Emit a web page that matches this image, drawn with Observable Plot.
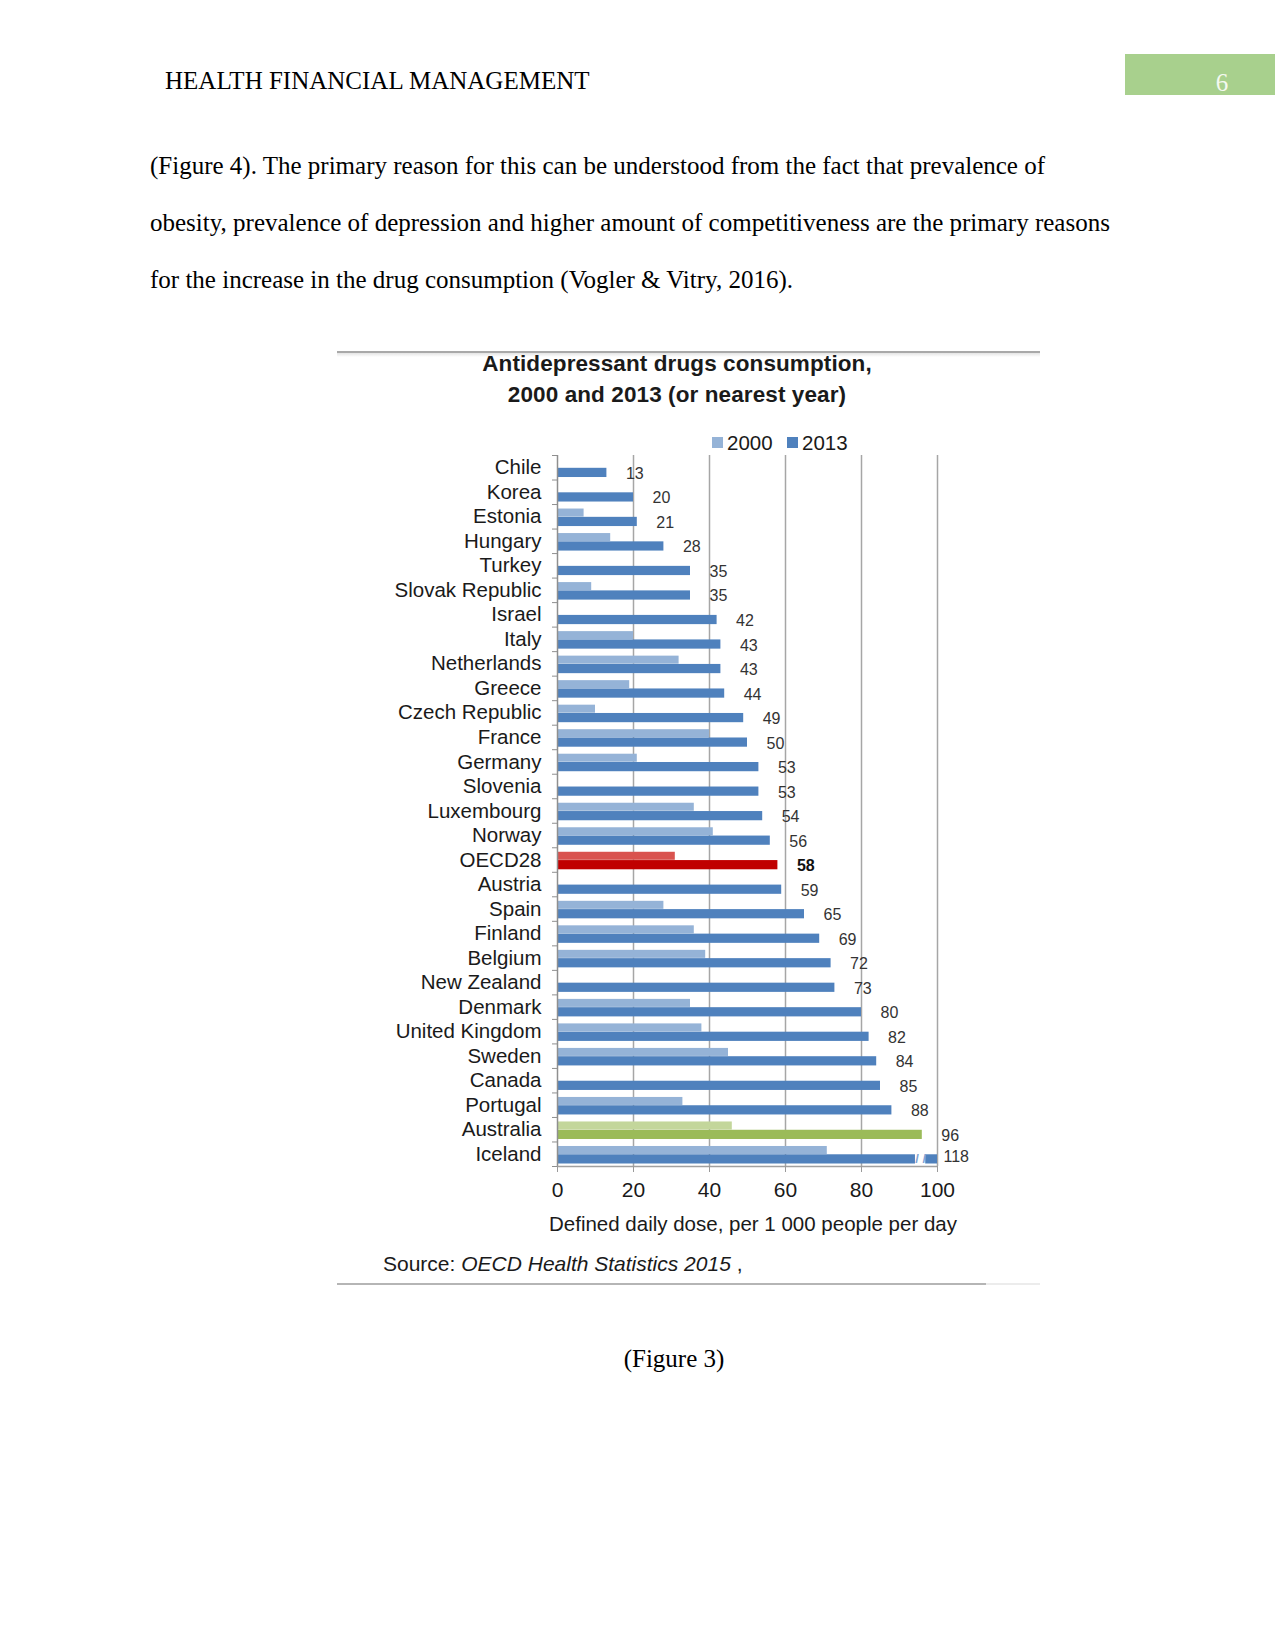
<!DOCTYPE html>
<html>
<head>
<meta charset="utf-8">
<script src="https://cdn.jsdelivr.net/npm/d3@7"></script>
<script src="https://cdn.jsdelivr.net/npm/@observablehq/plot@0.6"></script>
<style>
  html, body { margin: 0; padding: 0; background: #fff; }
  #page { position: relative; width: 1275px; height: 1650px; overflow: hidden; }
  .abs { position: absolute; white-space: nowrap; line-height: 1; }
  .serif { font-family: "Liberation Serif", "Times New Roman", serif; font-size: 25px; color: #000; }
  .sans { font-family: "Liberation Sans", Arial, sans-serif; color: #1a1a1a; }
  .ctr { transform: translateX(-50%); }
</style>
</head>
<body>
<div id="page">
  <div class="abs serif" style="left:165px; top:67.5px;">HEALTH FINANCIAL MANAGEMENT</div>
  <div class="abs" style="left:1125px; top:54px; width:150px; height:41px; background:#a8d08d;"></div>
  <div class="abs serif ctr" style="left:1222px; top:69.5px; color:#f4f9f0;">6</div>

  <div class="abs serif" style="left:150px; top:152.5px;">(Figure 4). The primary reason for this can be understood from the fact that prevalence of</div>
  <div class="abs serif" style="left:150px; top:209.5px;">obesity, prevalence of depression and higher amount of competitiveness are the primary reasons</div>
  <div class="abs serif" style="left:150px; top:266.5px;">for the increase in the drug consumption (Vogler &amp; Vitry, 2016).</div>

  <!-- chart frame lines -->
  <div class="abs" style="left:337px; top:350.5px; width:703px; height:2px; background:#a9a9a9;"></div>
  <div class="abs" style="left:337px; top:352.5px; width:703px; height:4px; background:linear-gradient(#e4e4e4, #ffffff);"></div>

  <div class="abs sans ctr" style="left:677px; top:353.3px; font-size:22.5px; font-weight:bold; letter-spacing:0.1px;">Antidepressant drugs consumption,</div>
  <div class="abs sans ctr" style="left:677px; top:383.8px; font-size:22.5px; font-weight:bold; letter-spacing:0.1px;">2000 and 2013 (or nearest year)</div>

  <div id="legend"></div>

  <div id="chart" class="abs" style="left:337px; top:451px;"></div>

  <div id="xtitle" class="abs sans ctr" style="left:753px; top:1213.5px; font-size:20.5px;"></div>
  <div id="source" class="abs sans" style="left:383px; top:1252.5px; font-size:21px;"></div>

  <div class="abs" style="left:337px; top:1283px; width:649px; height:2px; background:#b5b5b5;"></div>
  <div class="abs" style="left:986px; top:1283px; width:54px; height:2px; background:#ececec;"></div>

  <div class="abs serif ctr" style="left:674px; top:1345.5px;">(Figure 3)</div>
</div>

<script>
// ---------------- data ----------------
const countries = ["Chile", "Korea", "Estonia", "Hungary", "Turkey", "Slovak Republic", "Israel", "Italy",
  "Netherlands", "Greece", "Czech Republic", "France", "Germany", "Slovenia", "Luxembourg", "Norway",
  "OECD28", "Austria", "Spain", "Finland", "Belgium", "New Zealand", "Denmark", "United Kingdom",
  "Sweden", "Canada", "Portugal", "Australia", "Iceland"];
const values2013 = [13, 20, 21, 28, 35, 35, 42, 43, 43, 44, 49, 50, 53, 53, 54, 56, 58, 59, 65, 69, 72, 73,
  80, 82, 84, 85, 88, 96, 118];
const values2000 = [null, null, 7, 14, null, 9, null, 20, 32, 19, 10, 40, 21, null, 36, 41, 31, null, 28, 36,
  39, null, 35, 38, 45, null, 33, 46, 71];
const seriesNames = ["2000", "2013"];
const xTicks = [0, 20, 40, 60, 80, 100];
const xTitle = "Defined daily dose, per 1 000 people per day";
const sourceLabel = "Source: ";
const sourceTitle = "OECD Health Statistics 2015";
const averageRow = "OECD28";
const focusRow = "Australia";
const axisBreak = {country: "Iceland", from: 94.2, to: 96.9};

// ---------------- styles ----------------
const palette = {
  base:  {light: "#95b3d7", dark: "#4f81bd"},
  avg:   {light: "#d9534f", dark: "#c00000"},
  focus: {light: "#c3d69b", dark: "#9bbb59"}
};
const groupOf = c => c === averageRow ? "avg" : c === focusRow ? "focus" : "base";
const xMax = xTicks[xTicks.length - 1];

const rows = countries.map((c, i) => ({country: c, v2000: values2000[i], v2013: values2013[i]}));
const bandH = 711 / countries.length;

// ---------------- legend (HTML) ----------------
const legend = document.getElementById("legend");
const legendPos = [{sq: 712, tx: 727}, {sq: 787, tx: 802}];
seriesNames.forEach((name, i) => {
  const sq = document.createElement("div");
  sq.className = "abs";
  sq.style.cssText = `left:${legendPos[i].sq}px; top:437px; width:11px; height:11px; background:${i === 0 ? palette.base.light : palette.base.dark};`;
  legend.appendChild(sq);
  const t = document.createElement("div");
  t.className = "abs sans";
  t.style.cssText = `left:${legendPos[i].tx}px; top:432.8px; font-size:20.5px;`;
  t.textContent = name;
  legend.appendChild(t);
});

document.getElementById("xtitle").textContent = xTitle;
const src = document.getElementById("source");
src.appendChild(document.createTextNode(sourceLabel));
const it = document.createElement("i");
it.textContent = sourceTitle;
src.appendChild(it);
src.appendChild(document.createTextNode(" ,"));

// ---------------- chart ----------------
const chart = Plot.plot({
  width: 700,
  height: 789,
  marginLeft: 220,
  marginRight: 100,
  marginTop: 4,
  marginBottom: 74,
  x: {domain: [0, xMax], label: null},
  y: {domain: countries, padding: 0, round: false, label: null},
  color: {type: "identity"},
  style: {fontFamily: "'Liberation Sans', Arial, sans-serif", color: "#1a1a1a", background: "transparent", overflow: "visible"},
  marks: [
    Plot.gridX(xTicks.slice(1), {stroke: "#a6a6a6", strokeOpacity: 1, strokeWidth: 1.5}),
    Plot.barX(rows.filter(d => d.v2000 != null), {
      x: "v2000", y: "country", fill: d => palette[groupOf(d.country)].light,
      insetTop: 4.5, insetBottom: 12
    }),
    Plot.barX(rows, {
      x: "v2013", y: "country", fill: d => palette[groupOf(d.country)].dark,
      insetTop: 12.8, insetBottom: 2.5, clip: true
    }),
    // axis break on the overflowing bar
    Plot.barX([axisBreak], {x1: "from", x2: "to", y: "country", fill: "#ffffff", insetTop: 12.3, insetBottom: 2}),
    Plot.text([axisBreak], {x: d => (d.from + d.to) / 2, y: "country", text: () => "/ /", dy: 5, fontSize: 13, fontWeight: "bold", fill: "#7fa3d3"}),
    // axes
    Plot.ruleX([0], {stroke: "#8f8f8f", strokeWidth: 1.5}),
    Plot.ruleY([countries[countries.length - 1]], {dy: bandH / 2, stroke: "#a0a0a0", strokeWidth: 1.5}),
    Plot.axisY({tickSize: 5, tickFormat: () => "", dy: bandH / 2, stroke: "#8f8f8f", label: null}),
    Plot.axisY([countries[0]], {tickSize: 5, tickFormat: () => "", dy: -bandH / 2, stroke: "#8f8f8f", label: null}),
    Plot.axisY({tickSize: 0, tickPadding: 16, fontSize: 20.5, fill: "#1a1a1a", label: null}),
    Plot.axisX({ticks: xTicks, tickSize: 6, tickPadding: 10, fontSize: 21, stroke: "#9a9a9a", fill: "#1a1a1a", label: null}),
    // value labels
    Plot.text(rows.filter(d => d.v2013 <= xMax && d.country !== averageRow), {
      x: "v2013", y: "country", text: d => String(d.v2013), dx: 19, dy: 6,
      textAnchor: "start", fontSize: 16, fill: "#333333"
    }),
    Plot.text(rows.filter(d => d.country === averageRow), {
      x: "v2013", y: "country", text: d => String(d.v2013), dx: 19, dy: 6,
      textAnchor: "start", fontSize: 16, fontWeight: "bold", fill: "#111111"
    }),
    Plot.text(rows.filter(d => d.v2013 > xMax), {
      x: d => Math.min(d.v2013, xMax), y: "country", text: d => String(d.v2013), dx: 6, dy: 3,
      textAnchor: "start", fontSize: 16, fill: "#333333"
    })
  ]
});
chart.style.display = "block";
document.getElementById("chart").appendChild(chart);
</script>
</body>
</html>
